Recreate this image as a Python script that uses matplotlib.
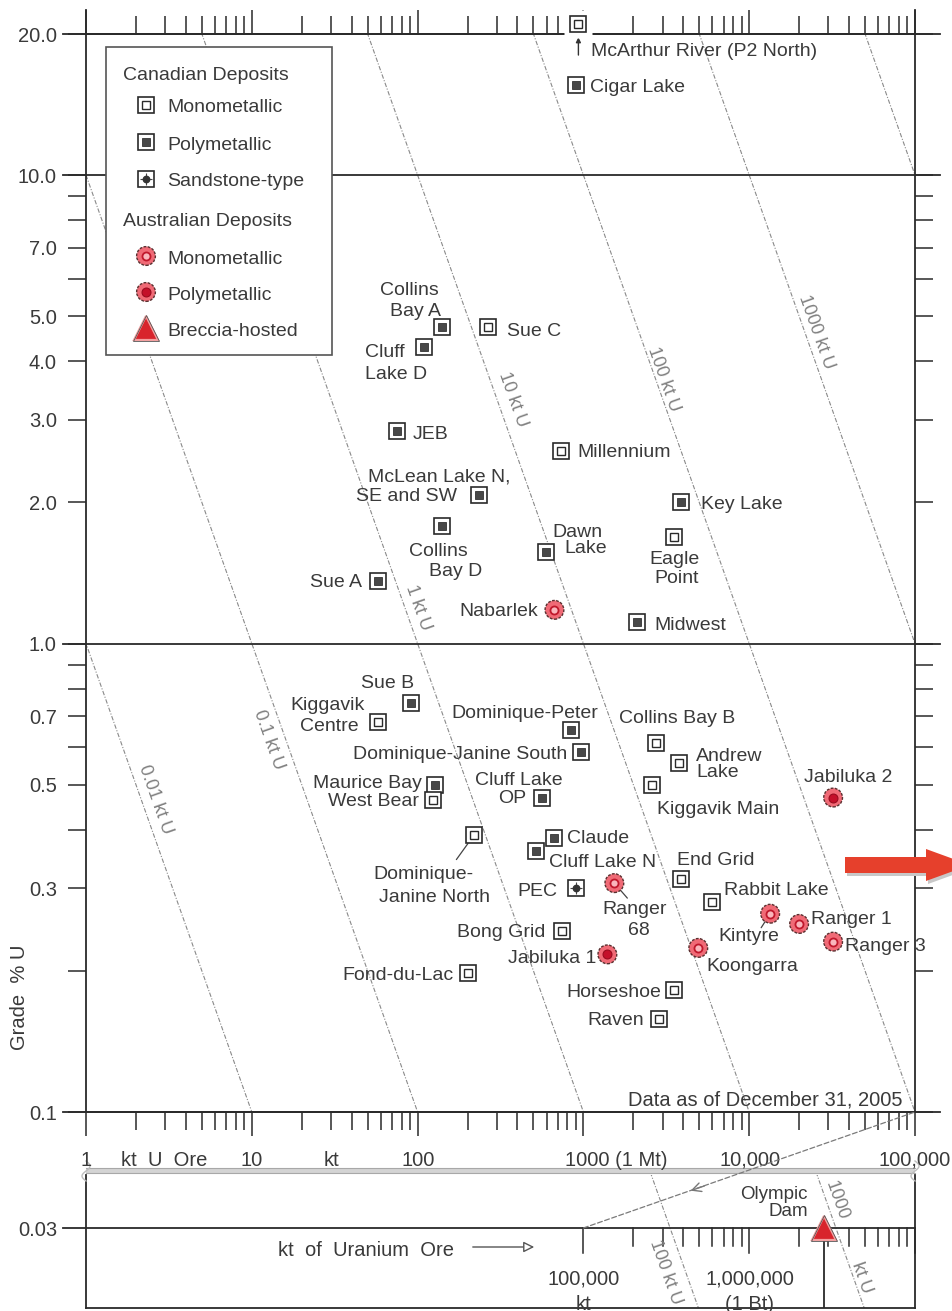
import numpy as np
import matplotlib
matplotlib.use("Agg")
import matplotlib.pyplot as plt
from matplotlib.patches import Rectangle, Polygon, ConnectionPatch
from matplotlib.ticker import FixedLocator, NullLocator, NullFormatter, FixedFormatter
from matplotlib.transforms import blended_transform_factory

plt.rcParams['font.family'] = ['Liberation Sans', 'DejaVu Sans']

# ---------------- data ----------------
deposits = ["McArthur River (P2 North)", "Cigar Lake", "Collins Bay A", "Sue C", "Cluff Lake D",
            "JEB", "Millennium", "McLean Lake N, SE and SW", "Key Lake", "Collins Bay D",
            "Eagle Point", "Dawn Lake", "Sue A", "Nabarlek", "Midwest",
            "Sue B", "Kiggavik Centre", "Dominique-Peter", "Dominique-Janine South", "Collins Bay B",
            "Andrew Lake", "Maurice Bay", "Kiggavik Main", "West Bear", "Cluff Lake OP",
            "Jabiluka 2", "Dominique-Janine North", "Claude", "Cluff Lake N", "End Grid",
            "Ranger 68", "PEC", "Rabbit Lake", "Kintyre", "Ranger 1",
            "Bong Grid", "Ranger 3", "Koongarra", "Jabiluka 1", "Fond-du-Lac",
            "Horseshoe", "Raven"]
ore_kt = [933, 907, 141, 264, 110,
          74.7, 737, 233, 3894, 141,
          3533, 598, 57.4, 669, 2115,
          90.7, 57.4, 847, 973, 2753,
          3787, 128, 2604, 123, 566,
          32070, 220, 669, 521, 3894,
          1537, 907, 5986, 13380, 20000,
          747, 32070, 4931, 1395, 200,
          3533, 2870]
grade_pct = [21.0, 15.6, 4.73, 4.73, 4.29,
             2.84, 2.58, 2.08, 2.00, 1.78,
             1.685, 1.57, 1.36, 1.18, 1.11,
             0.748, 0.681, 0.655, 0.588, 0.614,
             0.557, 0.500, 0.500, 0.464, 0.469,
             0.469, 0.391, 0.385, 0.361, 0.315,
             0.308, 0.300, 0.281, 0.265, 0.252,
             0.244, 0.231, 0.224, 0.217, 0.198,
             0.182, 0.158]
# cm/cp/cs = Canadian mono/poly/sandstone, am/ap = Australian mono/poly
deposit_type = ["cm", "cp", "cp", "cm", "cp",
                "cp", "cm", "cp", "cp", "cp",
                "cm", "cp", "cp", "am", "cp",
                "cp", "cm", "cp", "cp", "cm",
                "cm", "cp", "cm", "cm", "cp",
                "ap", "cm", "cp", "cp", "cm",
                "am", "cs", "cm", "am", "am",
                "cm", "am", "am", "ap", "cm",
                "cm", "cm"]
olympic_ore_kt = [2.83e6]
olympic_grade = [0.03]

iso_u_kt = [0.01, 0.1, 1, 10, 100, 1000, 10000]
iso_u_text = ["0.01 kt U", "0.1 kt U", "1 kt U", "10 kt U", "100 kt U", "1000 kt U", ""]
grade_ticks = [0.1, 0.2, 0.3, 0.4, 0.5, 0.6, 0.7, 0.8, 0.9, 1, 2, 3, 4, 5, 6, 7, 8, 9, 10, 20]
grade_tick_labels = ["0.1", "", "0.3", "", "0.5", "", "0.7", "", "", "1.0", "2.0", "3.0", "4.0",
                     "5.0", "", "7.0", "", "", "10.0", "20.0"]
ore_major = [1, 10, 100, 1000, 10000, 100000]
ore_axis_labels = ["1", "kt  U  Ore", "10", "kt", "100", "1000 (1 Mt)", "10,000", "100,000"]
inset_major = [1e5, 1e6, 1e7]

# ---------------- layout / style ----------------
# label lines per deposit: (text, dx px, dy px (up), ha)
label_layout = {
    "McArthur River (P2 North)": [("McArthur River (P2 North)", 13, -25, 'left')],
    "Cigar Lake": [("Cigar Lake", 14, -1, 'left')],
    "Collins Bay A": [("Collins", -33, 39, 'center'), ("Bay A", -27, 18, 'center')],
    "Sue C": [("Sue C", 19, -2, 'left')],
    "Cluff Lake D": [("Cluff", -59, -3, 'left'), ("Lake D", -59, -25, 'left')],
    "JEB": [("JEB", 16, -1, 'left')],
    "Millennium": [("Millennium", 16, 0, 'left')],
    "McLean Lake N, SE and SW": [("McLean Lake N,", -111, 20, 'left'), ("SE and SW", -22, 0, 'right')],
    "Key Lake": [("Key Lake", 20, 0, 'left')],
    "Collins Bay D": [("Collins", -33, -23, 'left'), ("Bay D", -13, -43, 'left')],
    "Eagle Point": [("Eagle", 0, -20, 'center'), ("Point", 2, -39, 'center')],
    "Dawn Lake": [("Dawn", 6, 21, 'left'), ("Lake", 18, 5, 'left')],
    "Sue A": [("Sue A", -16, 0, 'right')],
    "Nabarlek": [("Nabarlek", -16, 0, 'right')],
    "Midwest": [("Midwest", 17, -1, 'left')],
    "Sue B": [("Sue B", -23, 21, 'center')],
    "Kiggavik Centre": [("Kiggavik", -13, 18, 'right'), ("Centre", -19, -3, 'right')],
    "Dominique-Peter": [("Dominique-Peter", -47, 18, 'center')],
    "Dominique-Janine South": [("Dominique-Janine South", -14, -1, 'right')],
    "Collins Bay B": [("Collins Bay B", 21, 26, 'center')],
    "Andrew Lake": [("Andrew", 17, 8, 'left'), ("Lake", 17, -8, 'left')],
    "Maurice Bay": [("Maurice Bay", -14, 3, 'right')],
    "Kiggavik Main": [("Kiggavik Main", 5, -23, 'left')],
    "West Bear": [("West Bear", -14, 0, 'right')],
    "Cluff Lake OP": [("Cluff Lake", -24, 19, 'center'), ("OP", -30, 1, 'center')],
    "Jabiluka 2": [("Jabiluka 2", 15, 22, 'center')],
    "Dominique-Janine North": [("Dominique-", -51, -38, 'center'), ("Janine North", -40, -61, 'center')],
    "Claude": [("Claude", 13, 1, 'left')],
    "Cluff Lake N": [("Cluff Lake N", 13, -10, 'left')],
    "End Grid": [("End Grid", -4, 20, 'left')],
    "Ranger 68": [("Ranger", 20, -24, 'center'), ("68", 25, -45, 'center')],
    "PEC": [("PEC", -19, -1, 'right')],
    "Rabbit Lake": [("Rabbit Lake", 12, 13, 'left')],
    "Kintyre": [("Kintyre", -21, -21, 'center')],
    "Ranger 1": [("Ranger 1", 12, 6, 'left')],
    "Bong Grid": [("Bong Grid", -17, 0, 'right')],
    "Ranger 3": [("Ranger 3", 12, -3, 'left')],
    "Koongarra": [("Koongarra", 8, -17, 'left')],
    "Jabiluka 1": [("Jabiluka 1", -11, -2, 'right')],
    "Fond-du-Lac": [("Fond-du-Lac", -14, 0, 'right')],
    "Horseshoe": [("Horseshoe", -13, 0, 'right')],
    "Raven": [("Raven", -15, 0, 'right')],
}
# leader lines: (start offset px, shrink toward marker in pt)
leaders = {"Dominique-Janine North": (-18, -25, 8),
           "Ranger 68": (13, -15, 5),
           "Kintyre": (-9, -14, 5)}
iso_label_pos = {0.01: (0.464, 14), 0.1: (0.624, -17), 1: (1.194, 13),
                 10: (3.32, 16), 100: (3.66, 8), 1000: (4.62, 11)}

TC = '#3a3a3a'
FS = 14
AX = '#2a2a2a'
ISO_ANGLE = -np.degrees(np.arctan(468 / 166))
ISO_STYLE = dict(color='#8a8a8a', lw=0.8, ls=(0, (4, 1.5, 1, 1.5)))


def draw_marker(a, x, y, kind, z=6, clip=True):
    x = np.atleast_1d(x)
    y = np.atleast_1d(y)
    if kind in ('cm', 'cp', 'cs'):
        a.plot(x, y, ls='none', marker='s', ms=12.2, mfc='white', mec=AX, mew=1.2,
               zorder=z, clip_on=clip)
        if kind == 'cm':
            a.plot(x, y, ls='none', marker='s', ms=5.2, mfc='white', mec=AX, mew=1.0,
                   zorder=z + 0.1, clip_on=clip)
        elif kind == 'cp':
            a.plot(x, y, ls='none', marker='s', ms=6.4, mfc='#484848', mec='#333', mew=0.6,
                   zorder=z + 0.1, clip_on=clip)
        else:
            a.plot(x, y, ls='none', marker='+', ms=9, mec='#444', mew=0.8,
                   zorder=z + 0.1, clip_on=clip)
            a.plot(x, y, ls='none', marker='o', ms=4.6, mfc='#333', mec='#333',
                   zorder=z + 0.2, clip_on=clip)
    elif kind in ('am', 'ap'):
        a.scatter(x, y, s=13.5 ** 2, c='#f06a76', edgecolors='#5a3030', linewidths=1.0,
                  linestyles=(0, (2, 1)), zorder=z, clip_on=clip)
        if kind == 'am':
            a.plot(x, y, ls='none', marker='o', ms=5.8, mfc='#f9b6bc', mec='#c0182c', mew=1.3,
                   zorder=z + 0.1, clip_on=clip)
        else:
            a.plot(x, y, ls='none', marker='o', ms=6.4, mfc='#c4102a', mec='#9a0a1e', mew=0.8,
                   zorder=z + 0.1, clip_on=clip)
    else:
        a.plot(x, y, ls='none', marker='^', ms=17, mfc='#d8242c', mec='#f3a0a0', mew=1.6,
               zorder=z, clip_on=clip)
        a.plot(x, y, ls='none', marker='^', ms=19, mfc='none', mec='#555', mew=0.6,
               zorder=z, clip_on=clip)


fig = plt.figure(figsize=(9.53, 13.11), dpi=100)
W, H = 953.0, 1311.0

# ---------------- main axes ----------------
ax = fig.add_axes([86 / W, 199 / H, 829 / W, 1078 / H])
ax.set_xscale('log')
ax.set_yscale('log')
ax.set_xlim(1, 1e5)
ax.set_ylim(0.1, 20)
for s in ax.spines.values():
    s.set_color(AX)
    s.set_linewidth(1.3)

ax.xaxis.set_major_locator(FixedLocator(ore_major))
ax.xaxis.set_minor_locator(FixedLocator([m * 10 ** e for e in range(0, 5) for m in range(2, 10)]))
ax.xaxis.set_major_formatter(NullFormatter())
ax.xaxis.set_minor_formatter(NullFormatter())
ax.tick_params(axis='x', which='both', bottom=True, top=True, direction='out',
               labelbottom=False, labeltop=False, color=AX, width=1.1)
ax.tick_params(axis='x', which='major', length=17.5)
ax.tick_params(axis='x', which='minor', length=13)

ax.yaxis.set_major_locator(FixedLocator(grade_ticks))
ax.yaxis.set_minor_locator(NullLocator())
ax.yaxis.set_major_formatter(FixedFormatter(grade_tick_labels))
ax.tick_params(axis='y', which='major', left=True, right=True, direction='out', length=13,
               width=1.1, pad=8, labelsize=14.5, labelcolor=TC, color=AX)

# extended reference lines
tb = blended_transform_factory(ax.transAxes, ax.transData)
for g in [20, 10, 1, 0.1]:
    ax.plot([-0.0277, 1.0302], [g, g], transform=tb, clip_on=False, color=AX, lw=1.3, zorder=3)
for xa in [0, 1]:
    ax.plot([xa, xa], [1, 1.0223], transform=ax.transAxes, clip_on=False, color=AX, lw=1.3)

# iso-uranium lines
ore_grid = np.logspace(-1, 6, 400)
for U, txt in zip(iso_u_kt, iso_u_text):
    ax.plot(ore_grid, U * 100 / ore_grid, zorder=1, **ISO_STYLE)
    if txt:
        g, dx = iso_label_pos[U]
        ax.annotate(txt, xy=(U * 100 / g, g), xytext=(dx, 0), textcoords='offset pixels',
                    rotation=ISO_ANGLE, rotation_mode='anchor', ha='center', va='center',
                    fontsize=13, color='#808080')

# deposits
for name, x, y, k in zip(deposits, ore_kt, grade_pct, deposit_type):
    if y > 20:
        # point above the frame: blank the frame line behind it
        ax.plot([x], [y], ls='none', marker='s', ms=19.5, mfc='white', mec='none',
                zorder=5, clip_on=False)
    draw_marker(ax, x, y, k, clip=False)
    for txt, dx, dy, ha in label_layout[name]:
        ax.annotate(txt, xy=(x, y), xytext=(dx, dy), textcoords='offset pixels',
                    ha=ha, va='center_baseline', fontsize=FS, color=TC, zorder=8,
                    annotation_clip=False)
    if name in leaders:
        lx, ly, shr = leaders[name]
        ax.annotate('', xy=(x, y), xytext=(lx, ly), textcoords='offset pixels',
                    arrowprops=dict(arrowstyle='-', color='#444', lw=0.9, shrinkA=0, shrinkB=shr),
                    annotation_clip=False)
    if y > 20:
        ax.annotate('', xy=(x, y), xytext=(0, -31), textcoords='offset pixels',
                    arrowprops=dict(arrowstyle='-|>', color='#333', lw=1.0, shrinkA=0,
                                    shrinkB=9.5, mutation_scale=7), annotation_clip=False)

# ---------------- inset (large tonnage) ----------------
ylo, yhi = 0.03 * 10 ** (-80 / 468), 0.03 * 10 ** (53 / 468)
axin = fig.add_axes([86 / W, 3 / H, 829 / W, 133 / H])
axin.set_xscale('log')
axin.set_yscale('log')
axin.set_xlim(100, 1e7)
axin.set_ylim(ylo, yhi)
axin.xaxis.set_major_locator(NullLocator())
axin.xaxis.set_minor_locator(NullLocator())
axin.yaxis.set_major_locator(NullLocator())
axin.yaxis.set_minor_locator(NullLocator())
axin.spines['top'].set_visible(False)
for k in ['left', 'right', 'bottom']:
    axin.spines[k].set_color(AX)
    axin.spines[k].set_linewidth(1.3)
tbi = blended_transform_factory(axin.transAxes, axin.transData)
axin.plot([-0.0277, 1.0], [0.03, 0.03], transform=tbi, clip_on=False, color=AX, lw=1.3)
for v in inset_major:
    axin.plot([v, v], [0.03, 0.03 * 10 ** (-25 / 468)], color=AX, lw=1.1, clip_on=False)
for e in [5, 6]:
    for m in range(2, 10):
        axin.plot([m * 10 ** e] * 2, [0.03, 0.03 * 10 ** (-18 / 468)], color=AX, lw=1.1)
ore_grid2 = np.logspace(2, 7.5, 200)
for U, g, dx, txt in [(100, 0.0241, -20, "100 kt U"), (1000, 0.0344, 11, "1000"),
                      (1000, 0.02349, 8, "kt U")]:
    axin.annotate(txt, xy=(U * 100 / g, g), xytext=(dx, 0), textcoords='offset pixels',
                  rotation=ISO_ANGLE, rotation_mode='anchor', ha='center', va='center',
                  fontsize=13, color='#808080')
for U in [100, 1000]:
    axin.plot(ore_grid2, U * 100 / ore_grid2, zorder=1, **ISO_STYLE)
axin.vlines(olympic_ore_kt, ylo, olympic_grade, color=AX, lw=1.3, zorder=4)
draw_marker(axin, olympic_ore_kt, olympic_grade, 'br', z=8, clip=False)
axin.annotate("Olympic\nDam", xy=(olympic_ore_kt[0], olympic_grade[0]), xytext=(-16, 25),
              textcoords='offset pixels', ha='right', va='center', multialignment='right',
              fontsize=13.5, color=TC, linespacing=1.05)

con = ConnectionPatch(xyA=(1e5, 0.03), coordsA=axin.transData, xyB=(1e5, 0.1),
                      coordsB=ax.transData, linestyle=(0, (4, 2)), color='#7a7a7a', lw=0.9)
fig.add_artist(con)

# ---------------- overlay (pixel coordinates) ----------------
ov = fig.add_axes([0, 0, 1, 1])
ov.set_xlim(0, W)
ov.set_ylim(H, 0)
ov.axis('off')

# legend
ov.add_patch(Rectangle((106, 47), 226, 308, fc='white', ec='#555', lw=1.2, zorder=5))
ov.text(123, 73, "Canadian Deposits", ha='left', va='center_baseline', fontsize=FS, color=TC, zorder=7)
ov.text(123, 220, "Australian Deposits", ha='left', va='center_baseline', fontsize=FS, color=TC, zorder=7)
for yy, k, t in [(105, 'cm', "Monometallic"), (142, 'cp', "Polymetallic"), (179, 'cs', "Sandstone-type"),
                 (256, 'am', "Monometallic"), (292, 'ap', "Polymetallic"), (328, 'br', "Breccia-hosted")]:
    draw_marker(ov, 146, yy, k, z=7, clip=False)
    ov.text(167, yy + 1, t, ha='left', va='center_baseline', fontsize=FS, color=TC, zorder=7)

# axis labels
xl_pos = [86, 164, 252, 332, 418, 616, 750, 915]
for t, xp in zip(ore_axis_labels, xl_pos):
    ov.text(xp, 1158, t, ha='center', va='center_baseline', fontsize=14.5, color=TC)
ov.text(20, 997, "Grade  % U", rotation=90, ha='center', va='center', fontsize=14.5, color=TC)
ov.text(903, 1098, "Data as of December 31, 2005", ha='right', va='center_baseline',
        fontsize=14.5, color=TC)
ov.text(57, 1229, "0.03", ha='right', va='center_baseline', fontsize=14.5, color=TC)
ov.text(584, 1277, "100,000", ha='center', va='center_baseline', fontsize=14.5, color=TC)
ov.text(584, 1302, "kt", ha='center', va='center_baseline', fontsize=14.5, color=TC)
ov.text(750, 1277, "1,000,000", ha='center', va='center_baseline', fontsize=14.5, color=TC)
ov.text(750, 1302, "(1 Bt)", ha='center', va='center_baseline', fontsize=14.5, color=TC)
ov.text(366, 1248, "kt  of  Uranium  Ore", ha='center', va='center_baseline', fontsize=14.5, color=TC)
ov.annotate('', xy=(537, 1247), xytext=(470, 1247),
            arrowprops=dict(arrowstyle='-|>', fc='white', ec='#555', lw=1.0, mutation_scale=16))
# arrowhead on the dashed link
ov.annotate('', xy=(688, 1191.6), xytext=(707, 1185),
            arrowprops=dict(arrowstyle='->', color='#777', lw=1.0, mutation_scale=16))

# break symbol between the two panels
ov.fill_between([86, 915], 1168, 1173, color='#d4d4d4', lw=0)
ov.plot([86, 915], [1168, 1168], color='#a8a8a8', lw=0.8)
ov.plot([86, 915], [1173, 1173], color='#a8a8a8', lw=0.8)
tt = np.linspace(0, 1, 30)
for xe in [86, 915]:
    ov.plot(xe + 4 * np.sin(tt * 2 * np.pi), 1161 + 20 * tt, color='#bdbdbd', lw=1.0)

# red arrow at right edge
arrow_pts = [(845, 857), (926, 857), (926, 849), (970, 865), (926, 881), (926, 873), (845, 873)]
ov.add_patch(Polygon([(px + 2, py + 3) for px, py in arrow_pts], closed=True, fc='#c8c8c8', ec='none', zorder=3))
ov.add_patch(Polygon(arrow_pts, closed=True, fc='#e6402c', ec='none', zorder=4))

fig.savefig("out.png", dpi=100)
